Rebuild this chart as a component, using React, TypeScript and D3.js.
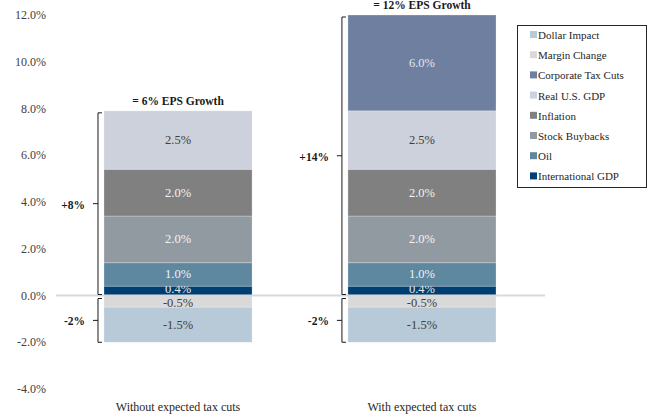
import React from "react";
import * as d3 from "d3";

const categories = ["Without expected tax cuts", "With expected tax cuts"];
const seriesNames = [
  "International GDP",
  "Oil",
  "Stock Buybacks",
  "Inflation",
  "Real U.S. GDP",
  "Corporate Tax Cuts",
  "Margin Change",
  "Dollar Impact",
];
const internationalGDP = [0.4, 0.4];
const oil = [1.0, 1.0];
const stockBuybacks = [2.0, 2.0];
const inflation = [2.0, 2.0];
const realGDP = [2.5, 2.5];
const corporateTaxCuts = [0, 6.0];
const marginChange = [-0.5, -0.5];
const dollarImpact = [-1.5, -1.5];
const seriesColors = ["#003f72", "#5e87a0", "#929aa1", "#808080", "#cdd1dc", "#6f7fa0", "#d9d9d9", "#b8c9d8"];
const labelColors = ["#e8e8e8", "#f2f2f2", "#f2f2f2", "#f2f2f2", "#404040", "#e4e6ee", "#404040", "#404040"];
const legendOrder = [
  "Dollar Impact",
  "Margin Change",
  "Corporate Tax Cuts",
  "Real U.S. GDP",
  "Inflation",
  "Stock Buybacks",
  "Oil",
  "International GDP",
];
const yTicks = [-4, -2, 0, 2, 4, 6, 8, 10, 12];
const titles = ["= 6% EPS Growth", "= 12% EPS Growth"];
const posBracketLabels = ["+8%", "+14%"];
const negBracketLabels = ["-2%", "-2%"];

const seriesValues = [
  internationalGDP,
  oil,
  stockBuybacks,
  inflation,
  realGDP,
  corporateTaxCuts,
  marginChange,
  dollarImpact,
];

const W = 649;
const H = 417;
const FONT = "Liberation Serif";

export default function App() {
  const y = d3.scaleLinear().domain([-4, 12]).range([389, 15]);
  const x = d3
    .scaleBand<string>()
    .domain(categories)
    .range([56, 544])
    .paddingInner(0.393)
    .paddingOuter(0.1967);
  const bw = x.bandwidth();
  const [ymin, ymax] = y.domain();
  const clamp = (v: number) => Math.max(ymin, Math.min(ymax, v));

  const table = categories.map((c, i) => {
    const row: any = { category: c };
    seriesNames.forEach((s, j) => (row[s] = seriesValues[j][i]));
    return row;
  });
  const stack = d3.stack<any>().keys(seriesNames).offset(d3.stackOffsetDiverging);
  const stacked = stack(table);

  const posTotals = categories.map((_, i) =>
    d3.sum(seriesValues, (v) => (v[i] > 0 ? v[i] : 0))
  );
  const negTotals = categories.map((_, i) =>
    d3.sum(seriesValues, (v) => (v[i] < 0 ? v[i] : 0))
  );

  const color = (name: string) => seriesColors[seriesNames.indexOf(name)];
  const ts = { fontFamily: FONT };

  return (
    <svg width={W} height={H} style={{ position: "absolute", left: 0, top: 0, fontFamily: FONT }}>
      <rect width={W} height={H} fill="#ffffff" />
      {yTicks.map((t) => (
        <text
          key={t}
          x={46}
          y={y(t)}
          textAnchor="end"
          dominantBaseline="central"
          fontSize={12}
          fill="#404040"
          style={ts}
        >
          {t.toFixed(1) + "%"}
        </text>
      ))}
      {stacked.map((layer, j) => (
        <g key={layer.key}>
          {layer.map((d, i) => {
            const v = seriesValues[j][i];
            if (v === 0) return null;
            const y0 = clamp(d[0]);
            const y1 = clamp(d[1]);
            const top = Math.min(y(y0), y(y1));
            const h = Math.abs(y(y0) - y(y1));
            const small = h < 14;
            const ly = small ? (v > 0 ? top + h / 2 - 2 : top + h / 2 + 1.5) : top + h / 2;
            return (
              <g key={i}>
                <rect
                  x={x(categories[i])}
                  y={top}
                  width={bw}
                  height={h}
                  fill={seriesColors[j]}
                  stroke="#ffffff"
                  strokeOpacity={0.35}
                  strokeWidth={0.75}
                />
                <text
                  x={(x(categories[i]) as number) + bw / 2}
                  y={ly}
                  textAnchor="middle"
                  dominantBaseline="central"
                  fontSize={12.5}
                  fill={labelColors[j]}
                  style={ts}
                >
                  {v.toFixed(1) + "%"}
                </text>
              </g>
            );
          })}
        </g>
      ))}
      <line x1={56} x2={545} y1={y(0)} y2={y(0)} stroke="#d9d9d9" strokeWidth={2} />
      {categories.map((c, i) => (
        <text
          key={c}
          x={(x(c) as number) + bw / 2}
          y={y(clamp(posTotals[i])) - 10}
          textAnchor="middle"
          dominantBaseline="central"
          fontSize={11.5}
          fontWeight="bold"
          fill="#1a1a1a"
          style={ts}
        >
          {titles[i]}
        </text>
      ))}
      {categories.map((c, i) => {
        const bx = (x(c) as number) - 6;
        const pTop = y(clamp(posTotals[i])) + 2;
        const pBot = y(0) - 1;
        const pMid = (pTop + pBot) / 2;
        const nTop = y(0) + 3;
        const nBot = y(negTotals[i]);
        const nMid = (nTop + nBot) / 2;
        const br = (t: number, b: number, m: number) =>
          `M${bx + 4},${t} L${bx},${t} L${bx},${b} L${bx + 4},${b} M${bx},${m} L${bx - 5},${m}`;
        return (
          <g key={c}>
            <path d={br(pTop, pBot, pMid)} fill="none" stroke="#1a1a1a" strokeWidth={1} />
            <path d={br(nTop, nBot, nMid)} fill="none" stroke="#1a1a1a" strokeWidth={1} />
            <text
              x={bx - 13}
              y={pMid + 1}
              textAnchor="end"
              dominantBaseline="central"
              fontSize={11.5}
              fontWeight="bold"
              fill="#1a1a1a"
              style={ts}
            >
              {posBracketLabels[i]}
            </text>
            <text
              x={bx - 13}
              y={nMid + 1}
              textAnchor="end"
              dominantBaseline="central"
              fontSize={11.5}
              fontWeight="bold"
              fill="#1a1a1a"
              style={ts}
            >
              {negBracketLabels[i]}
            </text>
          </g>
        );
      })}
      {categories.map((c) => (
        <text
          key={c}
          x={(x(c) as number) + bw / 2}
          y={407}
          textAnchor="middle"
          dominantBaseline="central"
          fontSize={12}
          fill="#262626"
          style={ts}
        >
          {c}
        </text>
      ))}
      <rect x={517.5} y={25.5} width={129} height={162} fill="#ffffff" stroke="#262626" strokeWidth={1} />
      {legendOrder.map((name, k) => (
        <g key={name} transform={`translate(530, ${35 + k * 20.2})`}>
          <rect x={0} y={-4} width={7} height={7} fill={color(name)} />
          <text x={8} y={0} dominantBaseline="central" fontSize={11} fill="#262626" style={ts}>
            {name}
          </text>
        </g>
      ))}
    </svg>
  );
}
